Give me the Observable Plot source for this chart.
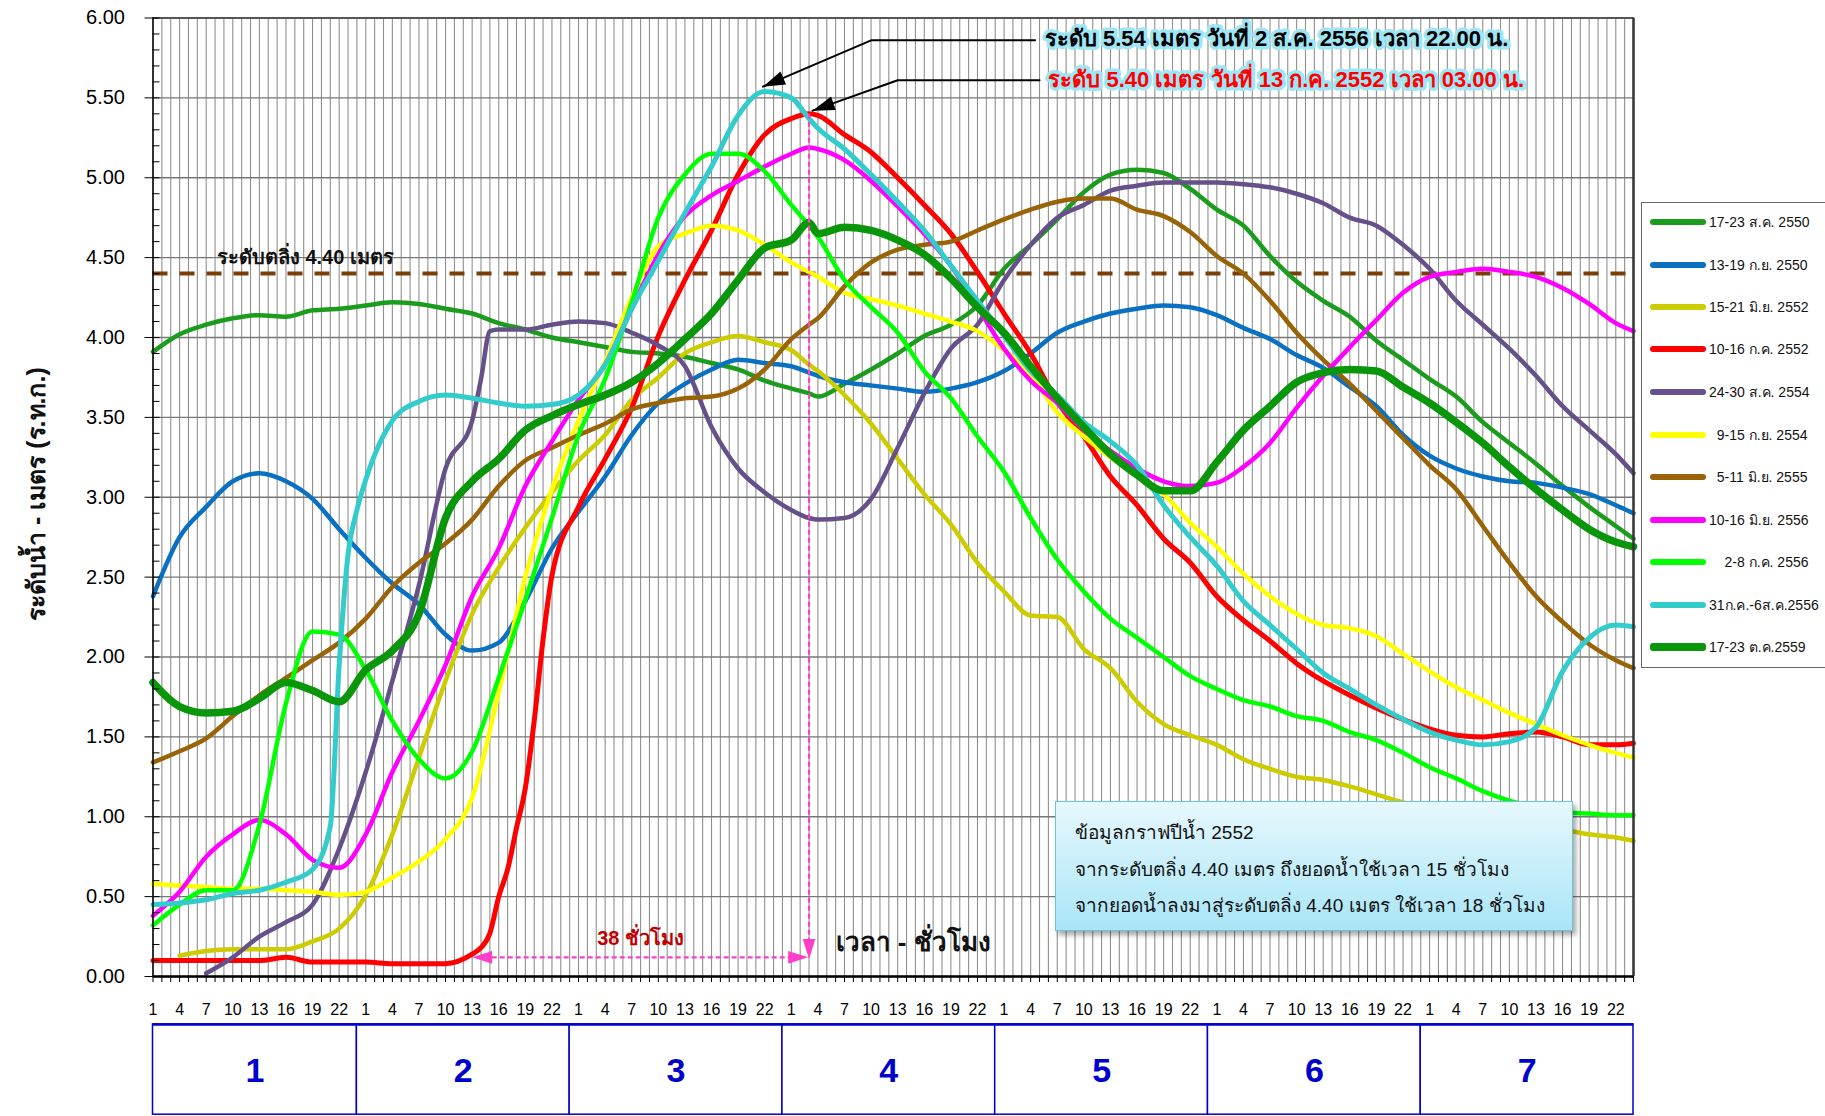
<!DOCTYPE html>
<html><head><meta charset="utf-8">
<script src="https://cdn.jsdelivr.net/npm/d3@7"></script>
<script src="https://cdn.jsdelivr.net/npm/@observablehq/plot@0.6"></script>
<style>
html,body{margin:0;padding:0;background:#fff;}
#wrap{position:relative;width:1825px;height:1116px;overflow:hidden;font-family:"Liberation Sans",Arial,sans-serif;}
#legend{position:absolute;left:1641px;top:202px;width:200px;height:466px;border:1.5px solid #666;background:#fff;box-sizing:border-box;}
.item{position:absolute;left:0;height:20px;width:200px;}
.item .sw{position:absolute;left:8px;top:7px;width:56px;height:6px;border-radius:3px;}
.item .lb{position:absolute;left:67px;top:0;font-size:14px;line-height:20px;white-space:pre;color:#111;}
#info{position:absolute;left:1055px;top:801px;width:518px;height:130px;box-sizing:border-box;border:1.5px solid #6cc3dc;
 background:linear-gradient(#e6f8fd,#a9e5f7);box-shadow:3px 4px 5px rgba(0,0,0,0.35);}
#info div{position:absolute;left:19px;font-size:19px;color:#111;white-space:pre;}
</style></head><body><div id="wrap"></div>
<script>
// ---------- data ----------
const hours = [0,3,6,9,12,15,18,21,24,27,30,33,36,39,42,45,48,51,54,57,60,63,66,69,72,75,78,81,84,87,90,93,96,99,102,105,108,111,114,117,120,123,126,129,132,135,138,141,144,147,150,153,156,159,162,165,167];
const extraHours = [20,22,23,37,38,40,41,43,44,74];

const seriesNames = ["17-23 ส.ค. 2550","13-19 ก.ย. 2550","15-21 มิ.ย. 2552","10-16 ก.ค. 2552","24-30 ส.ค. 2554","9-15 ก.ย. 2554","5-11 มิ.ย. 2555","10-16 มิ.ย. 2556","2-8 ก.ค. 2556","31ก.ค.-6ส.ค.2556","17-23 ต.ค.2559"];
const legendLabels = ["17-23 ส.ค. 2550","13-19 ก.ย. 2550","15-21 มิ.ย. 2552","10-16 ก.ค. 2552","24-30 ส.ค. 2554","  9-15 ก.ย. 2554","  5-11 มิ.ย. 2555","10-16 มิ.ย. 2556","    2-8 ก.ค. 2556","31ก.ค.-6ส.ค.2556","17-23 ต.ค.2559"];
const seriesColors = ["#1c9c1c","#0a70c2","#cccc00","#ff0000","#665089","#ffff00","#996308","#ff00ff","#00ff00","#33cccc","#0a960a"];
const seriesWidths = [4.5,4.5,4.5,5,4.5,4.5,4.5,4.5,4.5,5,7.5];

const lv2550a = [3.91,4.02,4.08,4.12,4.14,4.13,4.17,4.18,4.20,4.22,4.21,4.18,4.15,4.09,4.05,4.00,3.97,3.94,3.91,3.90,3.88,3.84,3.80,3.73,3.68,3.63,3.71,3.80,3.90,4.01,4.08,4.20,4.43,4.58,4.74,4.91,5.02,5.05,5.03,4.93,4.80,4.70,4.51,4.35,4.23,4.13,3.98,3.86,3.74,3.63,3.47,3.34,3.21,3.07,2.94,2.82,2.74];
const lv2550b = [2.38,2.75,2.94,3.10,3.15,3.10,2.99,2.80,2.62,2.46,2.33,2.14,2.04,2.09,2.35,2.68,2.91,3.13,3.39,3.59,3.71,3.80,3.86,3.84,3.82,3.76,3.72,3.70,3.68,3.66,3.68,3.72,3.79,3.90,4.03,4.10,4.15,4.18,4.20,4.19,4.14,4.06,3.99,3.89,3.81,3.69,3.57,3.39,3.26,3.18,3.13,3.10,3.09,3.06,3.02,2.95,2.90];
const lv2552a = [null,0.13,0.16,0.17,0.17,0.17,0.22,0.30,0.51,0.89,1.37,1.85,2.27,2.56,2.81,3.03,3.23,3.39,3.61,3.75,3.90,3.97,4.01,3.97,3.92,3.79,3.64,3.46,3.24,3.02,2.83,2.59,2.41,2.26,2.25,2.05,1.93,1.72,1.58,1.51,1.45,1.36,1.30,1.25,1.23,1.19,1.14,1.09,1.06,1.03,1.00,0.97,0.94,0.92,0.89,0.87,0.85];
const lv2552b = [0.10,0.10,0.10,0.10,0.10,0.12,0.09,0.09,0.09,0.08,0.08,0.08,0.14,0.50,1.18,2.51,2.94,3.24,3.56,4.01,4.36,4.67,5.02,5.27,5.37,5.39,5.27,5.16,5.00,4.83,4.65,4.41,4.15,3.90,3.60,3.38,3.13,2.95,2.74,2.59,2.38,2.23,2.10,1.96,1.85,1.76,1.68,1.61,1.55,1.51,1.50,1.52,1.53,1.50,1.45,1.45,1.46];
const lv2554a = [null,null,0.02,0.12,0.25,0.34,0.45,0.80,1.28,1.85,2.45,3.18,3.48,4.05,4.05,4.08,4.10,4.09,4.03,3.95,3.82,3.44,3.18,3.03,2.92,2.86,2.87,2.99,3.31,3.65,3.93,4.08,4.36,4.58,4.75,4.83,4.92,4.95,4.97,4.97,4.97,4.96,4.94,4.90,4.84,4.75,4.70,4.58,4.43,4.23,4.08,3.93,3.76,3.57,3.42,3.27,3.15];
const lv2554b = [0.58,0.57,0.56,0.55,0.55,0.54,0.53,0.51,0.53,0.62,0.72,0.86,1.12,1.78,2.50,3.05,3.48,3.85,4.25,4.57,4.65,4.70,4.67,4.58,4.47,4.38,4.28,4.24,4.20,4.15,4.10,4.04,3.92,3.77,3.53,3.38,3.25,3.14,3.02,2.84,2.69,2.52,2.38,2.27,2.20,2.18,2.13,2.02,1.91,1.81,1.73,1.65,1.58,1.51,1.45,1.40,1.37];
const lv2555 = [1.34,1.41,1.49,1.63,1.76,1.87,1.98,2.09,2.24,2.44,2.59,2.71,2.86,3.07,3.23,3.31,3.39,3.46,3.55,3.59,3.62,3.63,3.68,3.80,3.99,4.12,4.32,4.47,4.55,4.58,4.60,4.67,4.74,4.80,4.85,4.87,4.87,4.80,4.76,4.66,4.51,4.40,4.23,4.03,3.86,3.71,3.54,3.37,3.20,3.05,2.82,2.59,2.38,2.22,2.08,1.98,1.93];
const lv2556a = [0.38,0.53,0.75,0.89,0.98,0.89,0.73,0.68,0.89,1.28,1.60,1.95,2.38,2.68,3.07,3.35,3.61,3.83,4.18,4.52,4.76,4.89,4.98,5.07,5.15,5.18,5.11,4.98,4.82,4.65,4.45,4.19,3.93,3.73,3.59,3.42,3.29,3.18,3.10,3.07,3.09,3.19,3.34,3.56,3.76,3.94,4.11,4.28,4.38,4.41,4.43,4.41,4.38,4.31,4.21,4.09,4.04];
const lv2556b = [0.32,0.45,0.54,0.54,0.95,1.71,2.16,2.14,1.92,1.60,1.36,1.24,1.41,1.87,2.36,2.87,3.39,3.74,4.22,4.75,5.02,5.15,5.15,5.04,4.83,4.63,4.36,4.19,4.03,3.79,3.62,3.38,3.16,2.87,2.61,2.41,2.24,2.12,2.00,1.88,1.80,1.73,1.69,1.63,1.60,1.53,1.48,1.40,1.31,1.24,1.16,1.10,1.06,1.03,1.02,1.01,1.01];
const lv2556c = [0.45,0.46,0.48,0.52,0.54,0.59,0.67,1.95,3.11,3.48,3.60,3.64,3.62,3.59,3.57,3.58,3.64,3.83,4.18,4.48,4.78,5.07,5.39,5.54,5.50,5.31,5.18,5.02,4.85,4.67,4.45,4.23,4.01,3.79,3.64,3.47,3.35,3.20,2.95,2.75,2.57,2.35,2.20,2.05,1.90,1.80,1.70,1.61,1.53,1.48,1.45,1.47,1.56,1.91,2.12,2.20,2.19];
const lv2559 = [1.84,1.69,1.65,1.66,1.74,1.84,1.79,1.72,1.92,2.04,2.27,2.87,3.10,3.24,3.42,3.51,3.58,3.64,3.72,3.84,3.99,4.15,4.36,4.56,4.61,4.65,4.69,4.67,4.61,4.52,4.37,4.19,4.03,3.82,3.62,3.44,3.27,3.14,3.04,3.04,3.22,3.42,3.57,3.72,3.78,3.80,3.79,3.69,3.59,3.47,3.34,3.19,3.05,2.92,2.80,2.72,2.69];

// values at extraHours
const ex2550a = [null,null,null,null,null,null,null,null,null,3.65];
const ex2550b = [null,null,null,null,null,null,null,null,null,3.78];
const ex2552a = [null,null,null,null,null,null,null,null,null,3.83];
const ex2552b = [null,null,null,0.18,0.27,0.67,0.93,1.60,2.11,5.40];
const ex2554a = [null,null,null,3.74,4.04,null,null,null,null,2.87];
const ex2554b = [null,null,null,null,null,null,null,null,null,4.41];
const ex2555  = [null,null,null,null,null,null,null,null,null,4.08];
const ex2556a = [null,null,null,null,null,null,null,null,null,5.19];
const ex2556b = [null,null,null,null,null,null,null,null,null,4.70];
const ex2556c = [0.94,2.64,2.92,null,null,null,null,null,null,5.37];
const ex2559  = [null,null,null,null,null,null,null,null,null,4.72];

const baseLevels = [lv2550a,lv2550b,lv2552a,lv2552b,lv2554a,lv2554b,lv2555,lv2556a,lv2556b,lv2556c,lv2559];
const extraLevels = [ex2550a,ex2550b,ex2552a,ex2552b,ex2554a,ex2554b,ex2555,ex2556a,ex2556b,ex2556c,ex2559];

const bankLevel = 4.40;
const days = [1,2,3,4,5,6,7];
const yTicks = [0,0.5,1,1.5,2,2.5,3,3.5,4,4.5,5,5.5,6];
const riseHours = 38;

// ---------- build rows ----------
const rows = [];
seriesNames.forEach((name, k) => {
  const pts = [];
  hours.forEach((h, j) => { const v = baseLevels[k][j]; if (v != null) pts.push({series: name, hour: h, level: v}); });
  extraHours.forEach((h, j) => { const v = extraLevels[k][j]; if (v != null) pts.push({series: name, hour: h, level: v}); });
  pts.sort((a, b) => a.hour - b.hour);
  rows.push(...pts);
});

const X0 = 0, X1 = 167;
const xRange = [152.5, 1633], yRange = [976, 17.5];
const xs = Plot.scale({x: {domain: [X0, X1], range: xRange}});
const ys = Plot.scale({y: {domain: [0, 6], range: yRange}});
const angle = (a, b) => { // direction from a to b, degrees clockwise from up
  const dx = xs.apply(b[0]) - xs.apply(a[0]), dy = ys.apply(b[1]) - ys.apply(a[1]);
  return Math.atan2(dx, -dy) * 180 / Math.PI;
};
const head = { draw(ctx, size) { const l = Math.sqrt(size) * 1.25, w = l * 0.32; ctx.moveTo(0, 0); ctx.lineTo(w, l); ctx.lineTo(-w, l); ctx.closePath(); } };

const allHours = d3.range(X0, X1 + 1);
const labelHours = d3.range(X0, X1 + 1, 3);
const minorY = d3.range(0, 61).map(d => d / 10);

const peakOf = name => rows.filter(r => r.series === name).reduce((a, b) => b.level > a.level ? b : a);
const cyanPeak = peakOf("31ก.ค.-6ส.ค.2556");
const redPeak = peakOf("10-16 ก.ค. 2552");

const arrowY = 0.12;
const riseStart = redPeak.hour - riseHours;

const arrow1 = [[99.5, 5.86], [81, 5.86], [cyanPeak.hour - 0.2, cyanPeak.level + 0.03]];
const arrow2 = [[100, 5.61], [84, 5.61], [redPeak.hour + 0.4, redPeak.level + 0.02]];

const pink = "#ff3fc8";
const dayBoxTop = -0.30, dayBoxBottom = -0.865, dayLabelY = -0.59;
const dayRows = days.map(d => ({day: d, x1: Math.max(X0, 24 * (d - 1) - 1), x2: 24 * d - 1}));

const narrow = "'Liberation Sans Narrow','Liberation Sans',Arial,sans-serif";

const plot = Plot.plot({
  width: 1825, height: 1116,
  marginLeft: 152.5, marginRight: 192, marginTop: 17.5, marginBottom: 140,
  x: {domain: [X0, X1], range: xRange, label: null},
  y: {domain: [0, 6], range: yRange, label: null},
  style: {background: "transparent", fontFamily: "'Liberation Sans',Arial,sans-serif", color: "#000", overflow: "visible"},
  marks: [
    Plot.gridX(allHours, {stroke: "#8f8f8f", strokeOpacity: 1, strokeWidth: 1.1}),
    Plot.gridY(yTicks, {stroke: "#777", strokeOpacity: 1, strokeWidth: 1.3}),
    Plot.ruleY([6], {stroke: "#555", strokeWidth: 2}),
    Plot.ruleY([bankLevel], {stroke: "#7a3e06", strokeWidth: 4, strokeDasharray: "15,12"}),
    Plot.text(["ระดับตลิ่ง 4.40 เมตร"], {x: 7.2, y: bankLevel + 0.1, text: d => d, textAnchor: "start", fontSize: 20, fontWeight: "bold", fill: "#111"}),
    ...seriesNames.map((name, k) => Plot.line(rows.filter(r => r.series === name), {
      x: "hour", y: "level", stroke: seriesColors[k], strokeWidth: seriesWidths[k], curve: "monotone-x", strokeLinejoin: "round", strokeLinecap: "round"
    })),
    // axes
    Plot.axisY(yTicks, {tickSize: 8, tickPadding: 20, tickFormat: d => d.toFixed(2), fontSize: 20, label: null, stroke: "#000"}),
    Plot.axisY(minorY, {tickSize: -7, tickFormat: () => "", label: null, stroke: "#000"}),
    Plot.axisX(allHours, {tickSize: 6, tickFormat: () => "", label: null, stroke: "#000"}),
    Plot.axisX(labelHours, {tickSize: 0, tickPadding: 27, tickFormat: d => String(d % 24 + 1), fontSize: 16, label: null, fontFamily: narrow}),
    Plot.ruleX([X0], {stroke: "#000", strokeWidth: 1.5}),
    Plot.ruleX([X1], {stroke: "#333", strokeWidth: 2.5}),
    Plot.ruleY([0], {stroke: "#000", strokeWidth: 2.5}),
    // y title
    Plot.text(["ระดับน้ำ - เมตร (ร.ท.ก.)"], {frameAnchor: "left", dx: -116, y: 3.02, text: d => d, rotate: -90, textAnchor: "middle", fontSize: 25, fontWeight: "bold", fill: "#111"}),
    // pink 38-hour arrows
    Plot.link([{x1: redPeak.hour, y1: redPeak.level, x2: redPeak.hour, y2: arrowY + 0.08}], {x1: "x1", y1: "y1", x2: "x2", y2: "y2", stroke: pink, strokeWidth: 2.2, strokeDasharray: "5,3"}),
    Plot.link([{x1: riseStart + 1.3, x2: redPeak.hour - 1.3}], {x1: "x1", x2: "x2", y1: arrowY, y2: arrowY, stroke: pink, strokeWidth: 2.2, strokeDasharray: "5,3"}),
    Plot.dot([{x: riseStart, y: arrowY, a: -90}, {x: redPeak.hour - 0.1, y: arrowY, a: 90}, {x: redPeak.hour, y: arrowY - 0.01, a: 180}], {x: "x", y: "y", symbol: head, r: 9, fill: pink, stroke: "none", rotate: "a"}),
    Plot.text(["38 ชั่วโมง"], {x: (riseStart + redPeak.hour) / 2, y: 0.24, text: d => d, fontSize: 20, fontWeight: "bold", fill: "#c00000", fontFamily: narrow}),
    Plot.text(["เวลา - ชั่วโมง"], {x: 77, y: 0.21, text: d => d, textAnchor: "start", fontSize: 26, fontWeight: "bold", fill: "#111", fontFamily: narrow}),
    // black annotation arrows
    Plot.line(arrow1, {stroke: "#000", strokeWidth: 2}),
    Plot.line(arrow2, {stroke: "#000", strokeWidth: 2}),
    Plot.dot([arrow1[2], arrow2[2]], {x: d => d[0], y: d => d[1], symbol: head, r: 10, fill: "#000", stroke: "none",
      rotate: (d, i) => i === 0 ? angle(arrow1[1], arrow1[2]) : angle(arrow2[1], arrow2[2])}),
    Plot.text([`ระดับ ${cyanPeak.level.toFixed(2)} เมตร วันที่ 2 ส.ค. 2556 เวลา 22.00 น.`], {x: 100.6, y: 5.87, text: d => d, textAnchor: "start", fontSize: 22, fontWeight: "bold", fill: "#000", stroke: "#9ee6f6", strokeWidth: 7, fontFamily: narrow}),
    Plot.text([`ระดับ ${redPeak.level.toFixed(2)} เมตร วันที่ 13 ก.ค. 2552 เวลา 03.00 น.`], {x: 101, y: 5.61, text: d => d, textAnchor: "start", fontSize: 22, fontWeight: "bold", fill: "#ff0000", stroke: "#9ee6f6", strokeWidth: 7, fontFamily: narrow}),
    // day boxes
    Plot.rect(dayRows, {x1: "x1", x2: "x2", y1: dayBoxBottom, y2: dayBoxTop, fill: "#fff", stroke: "#0000cc", strokeWidth: 1.5}),
    Plot.ruleY([dayBoxTop], {x1: X0, x2: X1, stroke: "#0000cc", strokeWidth: 2.5}),
    Plot.text(dayRows, {x: d => (d.x1 + d.x2) / 2, y: dayLabelY, text: d => String(d.day), fontSize: 34, fontWeight: "bold", fill: "#0000cc", fontFamily: narrow})
  ]
});

const wrap = document.getElementById("wrap");
plot.style.position = "absolute"; plot.style.left = "0"; plot.style.top = "0";
wrap.appendChild(plot);

// legend
const legend = document.createElement("div"); legend.id = "legend";
const rowTops = [19, 62, 104, 146, 189, 232, 274, 317, 359, 402, 444];
legendLabels.forEach((lab, k) => {
  const it = document.createElement("div"); it.className = "item"; it.style.top = (rowTops[k] - 10) + "px";
  const sw = document.createElement("div"); sw.className = "sw"; sw.style.background = seriesColors[k];
  if (k === 10) { sw.style.height = "8px"; sw.style.top = "6px"; }
  const lb = document.createElement("div"); lb.className = "lb"; lb.textContent = lab;
  it.appendChild(sw); it.appendChild(lb); legend.appendChild(it);
});
wrap.appendChild(legend);

// info box
const info = document.createElement("div"); info.id = "info";
const infoLines = ["ข้อมูลกราฟปีน้ำ 2552", "จากระดับตลิ่ง 4.40 เมตร ถึงยอดน้ำใช้เวลา 15 ชั่วโมง", "จากยอดน้ำลงมาสู่ระดับตลิ่ง 4.40 เมตร ใช้เวลา 18 ชั่วโมง"];
const infoTops = [15, 52, 88];
infoLines.forEach((t, i) => { const d = document.createElement("div"); d.textContent = t; d.style.top = infoTops[i] + "px"; info.appendChild(d); });
wrap.appendChild(info);
</script></body></html>
